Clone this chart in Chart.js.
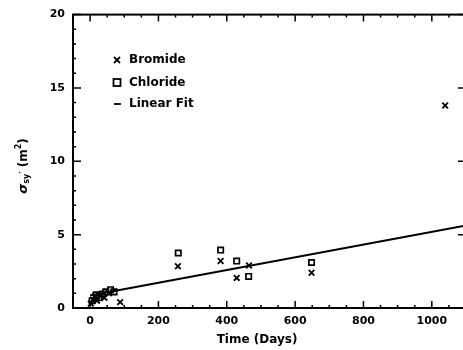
<!DOCTYPE html>
<html>
<head>
<meta charset="utf-8">
<script src="https://cdn.jsdelivr.net/npm/chart.js@4.4.0/dist/chart.umd.min.js"></script>
<style>
  html, body { margin: 0; padding: 0; background: #fff; overflow: hidden; }
  #wrap { width: 480px; height: 350px; }
</style>
</head>
<body>
<div id="wrap"><canvas id="chart" width="480" height="350"></canvas></div>
<script>
// values (days, m^2)
const bromideDays = [2, 8, 14, 20, 30, 42, 55, 88, 257, 382, 429, 465, 648, 1039];
const bromideVals = [0.3, 0.55, 0.8, 0.5, 0.9, 0.7, 1.0, 0.4, 2.85, 3.2, 2.05, 2.9, 2.4, 13.8];
const chlorideDays = [6, 18, 26, 36, 46, 60, 70, 258, 382, 429, 464, 648];
const chlorideVals = [0.5, 0.9, 0.7, 0.95, 1.1, 1.25, 1.1, 3.75, 3.95, 3.2, 2.15, 3.1];
const fitDays = [0, 1100];
const fitVals = [0.85, 5.62];

const xTicks = [0, 200, 400, 600, 800, 1000];
const yTicks = [0, 5, 10, 15, 20];

const FONT = '"DejaVu Sans", sans-serif';

const toPts = (xs, ys) => xs.map((x, i) => ({ x: x, y: ys[i] }));

// frame with inward ticks, legend and axis titles
const decorations = {
    id: 'decorations',
    afterDraw(chart) {
        const ctx = chart.ctx;
        const a = chart.chartArea;
        const xs = chart.scales.x, ys = chart.scales.y;
        ctx.save();
        ctx.strokeStyle = '#000';
        ctx.lineWidth = 2;
        ctx.strokeRect(a.left, a.top, a.right - a.left, a.bottom - a.top);

        ctx.lineWidth = 1.5;
        ctx.beginPath();
        for (let d = 0; d <= 1100; d += 50) {
            const px = xs.getPixelForValue(d);
            const len = d % 200 === 0 ? 7 : 3;
            ctx.moveTo(px, a.bottom); ctx.lineTo(px, a.bottom - len);
            ctx.moveTo(px, a.top); ctx.lineTo(px, a.top + len);
        }
        for (let v = 0; v <= 20; v += 1) {
            const py = ys.getPixelForValue(v);
            const len = v % 5 === 0 ? 8 : 3;
            ctx.moveTo(a.left, py); ctx.lineTo(a.left + len, py);
            ctx.moveTo(a.right, py); ctx.lineTo(a.right - len, py);
        }
        ctx.stroke();

        // legend
        ctx.fillStyle = '#000';
        ctx.font = 'bold 12px ' + FONT;
        ctx.textBaseline = 'middle';
        ctx.textAlign = 'left';
        const lx = 117, tx = 129;
        ctx.lineWidth = 1.8;
        ctx.beginPath();
        ctx.moveTo(lx - 3, 57); ctx.lineTo(lx + 3, 63);
        ctx.moveTo(lx + 3, 57); ctx.lineTo(lx - 3, 63);
        ctx.stroke();
        ctx.fillText('Bromide', tx, 60);
        ctx.strokeRect(lx - 3.5, 79, 7, 7);
        ctx.fillText('Chloride', tx, 83);
        ctx.beginPath();
        ctx.moveTo(lx - 3, 104); ctx.lineTo(lx + 4, 104);
        ctx.stroke();
        ctx.fillText('Linear Fit', tx, 104);

        // x title
        ctx.textAlign = 'center';
        ctx.fillText('Time (Days)', 257, 340);

        // y title, rotated
        ctx.translate(24, 166);
        ctx.rotate(-Math.PI / 2);
        ctx.textAlign = 'left';
        const parts = [
            { t: '\u03c3', f: 'italic bold 13px ', dy: 0 },
            { t: 'sy', f: 'bold 8px ', dy: 3 },
            { t: '\u2032', f: 'bold 9px ', dy: 0 },
            { t: ' (m', f: 'bold 12px ', dy: 0 },
            { t: '2', f: 'bold 8px ', dy: -5 },
            { t: ')', f: 'bold 12px ', dy: 0 }
        ];
        let w = 0;
        parts.forEach(p => { ctx.font = p.f + FONT; w += ctx.measureText(p.t).width; });
        let cx = -w / 2;
        parts.forEach(p => {
            ctx.font = p.f + FONT;
            ctx.fillText(p.t, cx, p.dy);
            cx += ctx.measureText(p.t).width;
        });
        ctx.restore();
    }
};

new Chart(document.getElementById('chart'), {
    type: 'scatter',
    data: {
        datasets: [
            {
                label: 'Bromide',
                data: toPts(bromideDays, bromideVals),
                pointStyle: 'crossRot',
                pointRadius: 4,
                pointBorderWidth: 1.8,
                borderColor: '#000',
                backgroundColor: '#000'
            },
            {
                label: 'Chloride',
                data: toPts(chlorideDays, chlorideVals),
                pointStyle: 'rect',
                pointRadius: 3.8,
                pointBorderWidth: 1.7,
                borderColor: '#000',
                backgroundColor: 'rgba(0,0,0,0)'
            },
            {
                type: 'line',
                label: 'Linear Fit',
                data: toPts(fitDays, fitVals),
                borderColor: '#000',
                borderWidth: 2,
                pointRadius: 0,
                fill: false
            }
        ]
    },
    options: {
        responsive: false,
        animation: false,
        layout: { padding: { top: 11, right: 14, left: 0, bottom: 0 } },
        plugins: {
            legend: { display: false },
            tooltip: { enabled: false }
        },
        scales: {
            x: {
                type: 'linear',
                min: -50,
                max: 1100,
                grid: { display: false, drawTicks: false },
                border: { display: false },
                afterBuildTicks: (s) => { s.ticks = xTicks.map(v => ({ value: v })); },
                afterFit: (s) => { s.height = 42; },
                ticks: {
                    color: '#000',
                    padding: 7,
                    maxRotation: 0,
                    callback: (v) => String(v),
                    font: { family: FONT, size: 11, weight: 'bold' }
                }
            },
            y: {
                min: 0,
                max: 20,
                grid: { display: false, drawTicks: false },
                border: { display: false },
                afterBuildTicks: (s) => { s.ticks = yTicks.map(v => ({ value: v })); },
                afterFit: (s) => { s.width = 73; },
                ticks: {
                    color: '#000',
                    padding: 8,
                    callback: (v) => String(v),
                    font: { family: FONT, size: 11, weight: 'bold' }
                }
            }
        }
    },
    plugins: [decorations]
});
</script>
</body>
</html>
